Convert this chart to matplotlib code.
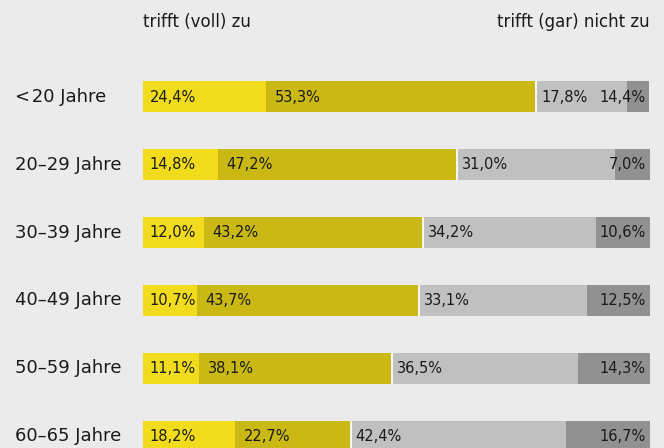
import matplotlib
matplotlib.use('Agg')
import matplotlib.pyplot as plt

# ---- data ----
groups = ["<\u200a20 Jahre", "20\u201329 Jahre", "30\u201339 Jahre",
          "40\u201349 Jahre", "50\u201359 Jahre", "60\u201365 Jahre"]
voll_zu = [24.4, 14.8, 12.0, 10.7, 11.1, 18.2]
eher_zu = [53.3, 47.2, 43.2, 43.7, 38.1, 22.7]
eher_nicht = [17.8, 31.0, 34.2, 33.1, 36.5, 42.4]
gar_nicht = [4.4, 7.0, 10.6, 12.5, 14.3, 16.7]
# label as printed in the source (first row reads 14,4 %)
gar_nicht_labels = ["14,4%", "7,0%", "10,6%", "12,5%", "14,3%", "16,7%"]

colors = ["#f0dc1c", "#cab815", "#c0c0c0", "#919191"]
bg = "#ebebeb"

plt.rcParams['font.family'] = ['DejaVu Sans']

W, H = 664, 448
fig = plt.figure(figsize=(W / 100, H / 100), dpi=100, facecolor=bg)
x0, x1 = 143, 650
ax = fig.add_axes([x0 / W, 0, (x1 - x0) / W, 1])
ax.set_facecolor(bg)

gap = 0.4
row_px = 67.8
top_px = 97
ax.set_xlim(0, 100 + gap)
ax.set_ylim(-top_px / row_px + H / row_px, -top_px / row_px)
ax.axis('off')

bh = 31 / row_px
pad = 1.3


def fmt(v):
    return f"{v:.1f}%".replace('.', ',')


for i in range(len(groups)):
    a, b, c, d = voll_zu[i], eher_zu[i], eher_nicht[i], gar_nicht[i]
    agree = a + b
    ax.barh(i, a, left=0, height=bh, color=colors[0])
    ax.barh(i, b, left=a, height=bh, color=colors[1])
    ax.barh(i, gap, left=agree, height=bh, color="#f7f7f2")
    ax.barh(i, c, left=agree + gap, height=bh, color=colors[2])
    ax.barh(i, d, left=agree + gap + c, height=bh, color=colors[3])

    kw = dict(va='center', fontsize=10.5, color='#1a1a1a')
    ax.text(pad, i, fmt(a), ha='left', **kw)
    ax.text(a + pad * 1.3, i, fmt(b), ha='left', **kw)
    ax.text(agree + gap + pad * 0.6, i, fmt(c), ha='left', **kw)
    ax.text(100 + gap - 0.9, i, gar_nicht_labels[i], ha='right', **kw)

    fig.text(15 / W, 1 - (top_px + i * row_px) / H, groups[i],
             ha='left', va='center', fontsize=13, color='#1a1a1a')

fig.text(x0 / W, 1 - 22 / H, "trifft (voll) zu", ha='left', va='center',
         fontsize=12, color='#1a1a1a')
fig.text(x1 / W, 1 - 22 / H, "trifft (gar) nicht zu", ha='right', va='center',
         fontsize=12, color='#1a1a1a')

fig.savefig("out.png", dpi=100, facecolor=bg)
